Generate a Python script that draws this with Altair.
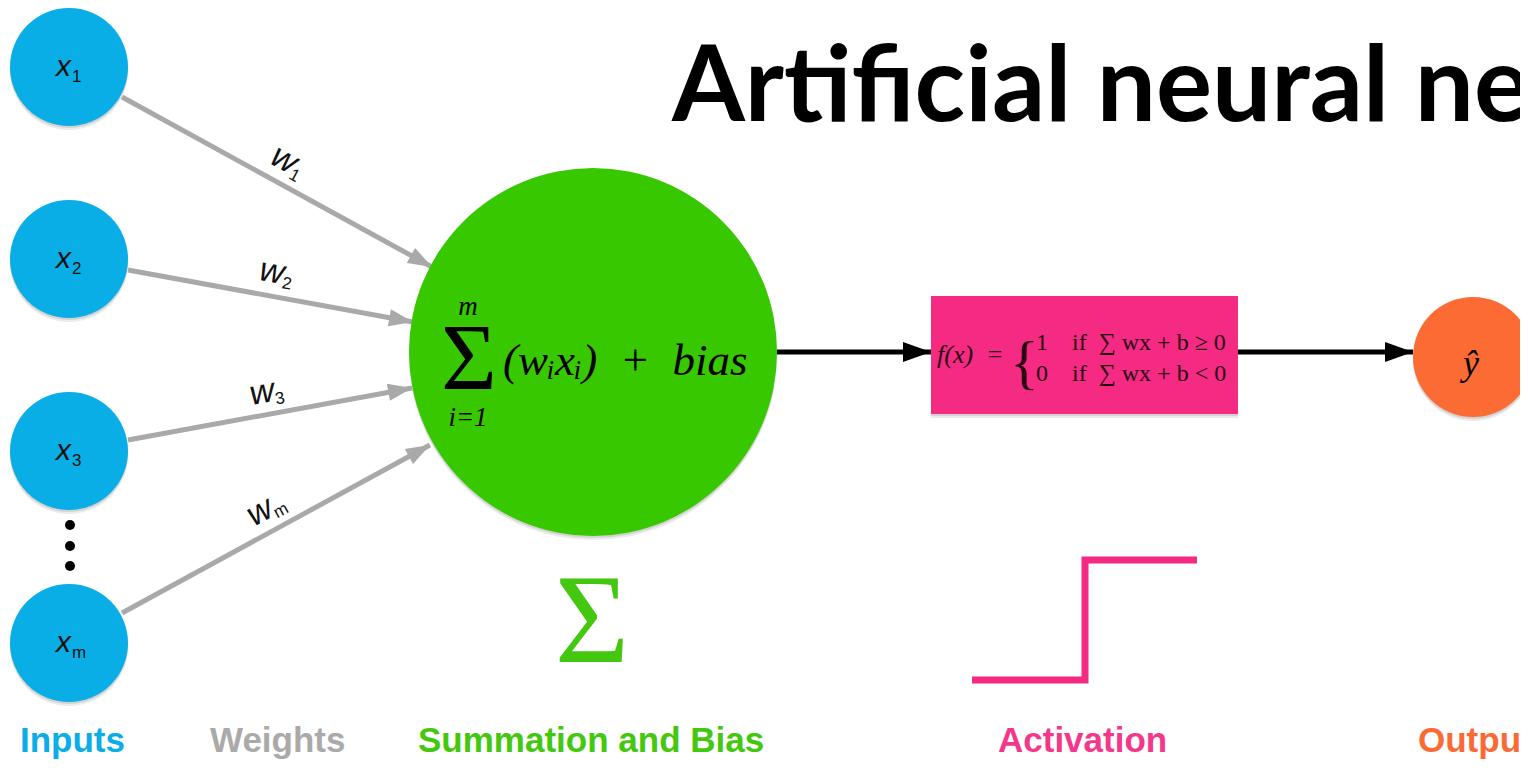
import math
import altair as alt
import pandas as pd

# ---------------- data ----------------
# input neurons
input_x = [69, 69, 69, 69]
input_y = [67, 259, 451, 643]
input_r = [59, 59, 59, 59]
input_main = ["x", "x", "x", "x"]
input_sub = ["1", "2", "3", "m"]

# ellipsis dots between x3 and xm
dot_x = [70, 70, 70]
dot_y = [525, 546, 566]

# weighted connections (start -> arrow tip)
conn_x1 = [122, 128, 128, 122]
conn_y1 = [97, 270, 440, 613]
conn_x2 = [432, 413, 412, 430]
conn_y2 = [267, 322, 388, 445]
weight_label_x = [284, 272, 262, 260]
weight_label_y = [160, 272, 393, 512]
weight_main = ["w", "w", "w", "w"]
weight_sub = ["1", "2", "3", "m"]

# summation node
sum_x = [593]
sum_y = [352]
sum_r = [184]

# activation box
box_x1 = [931]
box_x2 = [1238]
box_y1 = [296]
box_y2 = [414]

# output node
out_x = [1473]
out_y = [357]
out_r = [60]

# black arrows (start -> tip)
flow_x1 = [777, 1238]
flow_x2 = [931, 1413]
flow_y = [352, 352]

# step function icon
step_x = [972, 1085, 1085, 1197]
step_y = [680, 680, 560, 560]

# bottom captions
caption_text = ["Inputs", "Weights", "Summation and Bias", "Activation", "Output"]
caption_x = [20, 210, 418, 998, 1418]
caption_color = ["#0aaee6", "#aaaaaa", "#44c80f", "#f4378a", "#fb6a35"]

title_text = ["Artificial neural network"]

EN = "\u2002"
EM = "\u2003"
sum_formula = ["(wᵢxᵢ)" + EN + "+" + EN + "bias"]
act_lhs = ["f(x)" + EN + "="]
act_cases = [
    "1" + EM + "if" + EN + "∑ wx + b ≥ 0",
    "0" + EM + "if" + EN + "∑ wx + b < 0",
]

# ---------------- helpers ----------------
xs = alt.Scale(domain=[8, 1520], nice=False, zero=False)
ys = alt.Scale(domain=[8, 760], nice=False, zero=False, reverse=True)


def X(f="x"):
    return alt.X(f"{f}:Q", scale=xs, axis=None)


def Y(f="y"):
    return alt.Y(f"{f}:Q", scale=ys, axis=None)


def circle_layer(xv, yv, rv, color, opacity=1.0, dy=0):
    # Vega circle symbol: radius = sqrt(size) / 2
    df = pd.DataFrame({"x": xv, "y": yv, "s": [4 * r * r for r in rv]})
    return alt.Chart(df).mark_circle(opacity=opacity, color=color, yOffset=dy).encode(
        x=X(), y=Y(), size=alt.Size("s:Q", scale=None, legend=None)
    )


def text_layer(df, **kw):
    enc = dict(x=X(), y=Y(), text="t:N")
    if "angle" in df.columns:
        enc["angle"] = alt.Angle("angle:Q", scale=None)
    return alt.Chart(df).mark_text(**kw).encode(**enc)


ARROW = "M0,0 L-1,-0.36 L-1,0.36 Z"

layers = []

# soft drop shadows under the nodes and the box
for dyy, op in [(4, 0.08), (2, 0.10)]:
    layers.append(circle_layer(input_x, input_y, input_r, "#000000", op, dyy))
    layers.append(circle_layer(sum_x, sum_y, sum_r, "#000000", op, dyy))
    layers.append(circle_layer(out_x, out_y, out_r, "#000000", op, dyy))
    shadow_box = pd.DataFrame({"x1": box_x1, "x2": box_x2, "y1": box_y1, "y2": box_y2})
    layers.append(
        alt.Chart(shadow_box).mark_rect(color="#000000", opacity=op, yOffset=dyy, y2Offset=dyy).encode(
            x=X("x1"), x2="x2:Q", y=Y("y1"), y2="y2:Q"
        )
    )

# gray connections
conn = pd.DataFrame({"x1": conn_x1, "y1": conn_y1, "x2": conn_x2, "y2": conn_y2})
conn["angle"] = [
    math.degrees(math.atan2(b2 - b1, a2 - a1)) % 360
    for a1, b1, a2, b2 in zip(conn_x1, conn_y1, conn_x2, conn_y2)
]
layers.append(
    alt.Chart(conn).mark_rule(color="#a9a9a9", strokeWidth=5).encode(
        x=X("x1"), y=Y("y1"), x2="x2:Q", y2="y2:Q"
    )
)
layers.append(
    alt.Chart(conn).mark_point(shape=ARROW, filled=True, opacity=1, color="#a9a9a9", size=2304).encode(
        x=X("x2"), y=Y("y2"), angle=alt.Angle("angle:Q", scale=None)
    )
)

# black flow arrows
flow = pd.DataFrame({"x1": flow_x1, "x2": flow_x2, "y": flow_y})
layers.append(
    alt.Chart(flow).mark_rule(color="#000000", strokeWidth=5).encode(
        x=X("x1"), x2="x2:Q", y=Y("y")
    )
)
layers.append(
    alt.Chart(flow).mark_point(shape=ARROW, filled=True, opacity=1, color="#000000", size=3136).encode(
        x=X("x2"), y=Y("y")
    )
)

# nodes
layers.append(circle_layer(input_x, input_y, input_r, "#0aaee6"))
layers.append(circle_layer(sum_x, sum_y, sum_r, "#37c800"))
layers.append(circle_layer(out_x, out_y, out_r, "#fc6b33"))
layers.append(circle_layer(dot_x, dot_y, [5, 5, 5], "#000000"))

# activation box
box = pd.DataFrame({"x1": box_x1, "x2": box_x2, "y1": box_y1, "y2": box_y2})
layers.append(
    alt.Chart(box).mark_rect(color="#f42a83").encode(
        x=X("x1"), x2="x2:Q", y=Y("y1"), y2="y2:Q"
    )
)

# step function
step = pd.DataFrame({"x": step_x, "y": step_y, "o": list(range(len(step_x)))})
layers.append(
    alt.Chart(step).mark_line(color="#f42a83", strokeWidth=7, strokeJoin="miter").encode(
        x=X(), y=Y(), order="o:O"
    )
)

# input labels
lab = pd.DataFrame({"x": [v - 2 for v in input_x], "y": [v + 9 for v in input_y], "t": input_main})
layers.append(text_layer(lab, align="right", baseline="alphabetic", font="Liberation Sans",
                         fontStyle="italic", fontSize=30, color="#111111", dx=4))
labs = pd.DataFrame({"x": [v - 2 for v in input_x], "y": [v + 9 for v in input_y], "t": input_sub})
layers.append(text_layer(labs, align="left", baseline="alphabetic", font="Liberation Sans",
                         fontSize=17, color="#111111", dx=5, dy=6))

# weight labels
wl = pd.DataFrame({"x": weight_label_x, "y": weight_label_y, "t": weight_main, "angle": conn["angle"]})
layers.append(text_layer(wl, align="center", baseline="middle", font="Liberation Sans",
                         fontStyle="italic", fontSize=34, color="#111111"))
wls = pd.DataFrame({"x": weight_label_x, "y": weight_label_y, "t": weight_sub, "angle": conn["angle"]})
layers.append(text_layer(wls, align="left", baseline="middle", font="Liberation Sans",
                         fontSize=17, color="#111111", dx=12, dy=9))

# summation formula
layers.append(text_layer(pd.DataFrame({"x": [469], "y": [390], "t": ["Σ"]}), align="center",
                         baseline="alphabetic", font="Liberation Serif", fontSize=96, color="#000000"))
layers.append(text_layer(pd.DataFrame({"x": [468, 468], "y": [315, 426], "t": ["m", "i=1"]}), align="center",
                         baseline="alphabetic", font="Liberation Serif", fontStyle="italic",
                         fontSize=27, color="#000000"))
layers.append(text_layer(pd.DataFrame({"x": [503], "y": [375], "t": sum_formula}), align="left",
                         baseline="alphabetic", font="Liberation Serif", fontStyle="italic",
                         fontSize=45, color="#000000"))

# activation formula
layers.append(text_layer(pd.DataFrame({"x": [937], "y": [363], "t": act_lhs}), align="left",
                         baseline="alphabetic", font="Liberation Serif", fontStyle="italic",
                         fontSize=26, color="#2a0812"))
layers.append(text_layer(pd.DataFrame({"x": [1010], "y": [382], "t": ["{"]}), align="left",
                         baseline="alphabetic", font="Liberation Serif",
                         fontSize=60, color="#2a0812"))
layers.append(text_layer(pd.DataFrame({"x": [1036, 1036], "y": [350, 381], "t": act_cases}),
                         align="left", baseline="alphabetic", font="Liberation Serif",
                         fontSize=24, color="#2a0812"))

# output label
layers.append(text_layer(pd.DataFrame({"x": [1471], "y": [375], "t": ["ŷ"]}), align="center",
                         baseline="alphabetic", font="Liberation Serif", fontStyle="italic",
                         fontSize=36, color="#000000"))

# green sigma icon
layers.append(text_layer(pd.DataFrame({"x": [592], "y": [662], "t": ["Σ"]}), align="center",
                         baseline="alphabetic", font="Liberation Serif", fontSize=128, color="#44c80f"))

# captions
cap = pd.DataFrame({"x": caption_x, "y": [752] * 5, "t": caption_text, "c": caption_color})
layers.append(
    alt.Chart(cap).mark_text(align="left", baseline="alphabetic", font="Liberation Sans",
                             fontWeight="bold", fontSize=35).encode(
        x=X(), y=Y(), text="t:N", color=alt.Color("c:N", scale=None, legend=None)
    )
)

# title
layers.append(text_layer(pd.DataFrame({"x": [672], "y": [121], "t": title_text}), align="left",
                         baseline="alphabetic", font="Lato", fontWeight="bold", fontSize=105,
                         color="#000000"))

chart = alt.layer(*layers).properties(
    width=1512, height=752, padding=0, autosize="none", background="white"
).configure_view(stroke=None)

chart.save("out.html", embed_options={"renderer": "svg", "actions": False})
